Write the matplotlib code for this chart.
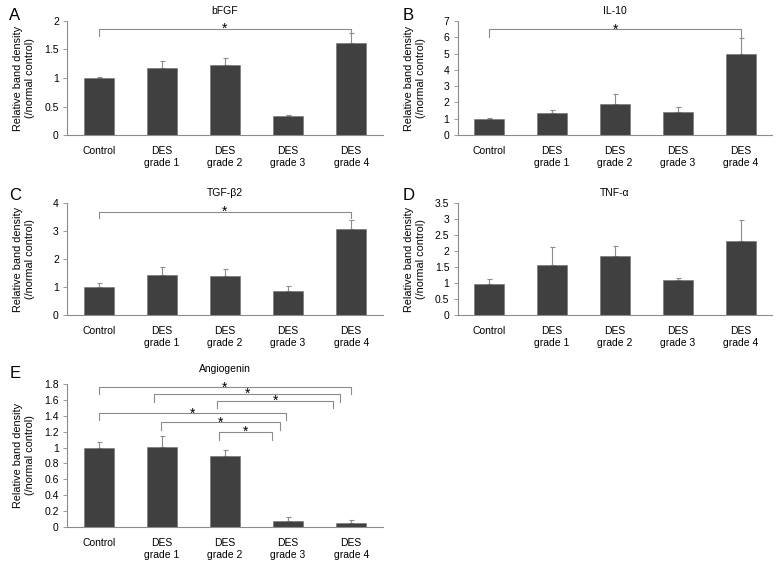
import numpy as np
import matplotlib.pyplot as plt

plt.rcParams['font.family'] = ['Liberation Sans', 'DejaVu Sans']
plt.rcParams['font.size'] = 7.5

groups = ['Control', 'DES\ngrade 1', 'DES\ngrade 2', 'DES\ngrade 3', 'DES\ngrade 4']

bfgf = [1.00, 1.18, 1.23, 0.34, 1.62]
bfgf_err = [0.01, 0.12, 0.12, 0.01, 0.17]
il10 = [1.00, 1.34, 1.91, 1.44, 4.94]
il10_err = [0.04, 0.20, 0.60, 0.30, 1.02]
tgfb2 = [0.99, 1.43, 1.39, 0.84, 3.06]
tgfb2_err = [0.17, 0.27, 0.24, 0.18, 0.34]
tnfa = [0.97, 1.55, 1.86, 1.08, 2.31]
tnfa_err = [0.15, 0.58, 0.31, 0.08, 0.67]
angio = [1.00, 1.005, 0.90, 0.076, 0.05]
angio_err = [0.075, 0.135, 0.075, 0.045, 0.034]

# significance brackets: (x start, x end, height, drop)
bfgf_sig = [(0, 4, 1.86, 0.13)]
il10_sig = [(0, 4, 6.48, 0.45)]
tgfb2_sig = [(0, 4, 3.68, 0.22)]
angio_sig = [(0, 4, 1.76, 0.08),
             (0.88, 3.83, 1.68, 0.10),
             (1.88, 3.72, 1.59, 0.09),
             (0, 2.97, 1.43, 0.08),
             (0.99, 2.88, 1.32, 0.10),
             (1.90, 2.75, 1.20, 0.11)]

bar_c = '#404040'
line_c = '#8c8c8c'

fig = plt.figure(figsize=(7.81, 5.65), dpi=100, facecolor='white')


def panel(rect, vals, errs, title, ymax, step, letter, letter_xy, sigs=(), tpad=5):
    ax = fig.add_axes(rect)
    x = np.arange(len(groups))
    ax.bar(x, vals, width=0.47, color=bar_c, edgecolor='#707070', linewidth=0.4, zorder=2)
    ax.errorbar(x, vals, yerr=[np.zeros(len(vals)), errs], fmt='none',
                ecolor=line_c, elinewidth=0.8, capsize=1.8, capthick=0.8, zorder=1)
    ax.set_xlim(-0.5, 4.5)
    ax.set_ylim(0, ymax)
    ticks = np.arange(0, ymax + step / 2, step)
    ax.set_yticks(ticks)
    ax.set_yticklabels(['%g' % t for t in ticks])
    ax.set_xticks(x)
    ax.set_xticklabels(groups)
    ax.tick_params(axis='x', length=0, pad=8)
    ax.tick_params(axis='y', length=3, width=0.6, color=line_c, pad=3)
    for s in ['top', 'right']:
        ax.spines[s].set_visible(False)
    for s in ['left', 'bottom']:
        ax.spines[s].set_color(line_c)
        ax.spines[s].set_linewidth(0.8)
    ax.set_title(title, fontsize=7.5, pad=tpad)
    ax.set_ylabel('Relative band density\n(/normal control)', fontsize=7.8)
    ax.yaxis.set_label_coords(-0.102, 0.5)
    for x0, x1, h, d in sigs:
        ax.plot([x0, x0, x1, x1], [h - d, h, h, h - d], color=line_c, lw=0.8, clip_on=False)
        ax.annotate('*', xy=((x0 + x1) / 2, h), xytext=(0, -3), textcoords='offset points',
                    ha='center', va='baseline', fontsize=10, annotation_clip=False)
    fig.text(letter_xy[0], letter_xy[1], letter, fontsize=12, va='baseline')
    return ax


panel([0.086, 0.761, 0.404, 0.202], bfgf, bfgf_err, 'bFGF', 2, 0.5, 'A', (0.012, 0.9646), bfgf_sig)
panel([0.586, 0.761, 0.403, 0.202], il10, il10_err, 'IL-10', 7, 1, 'B', (0.515, 0.9646), il10_sig)
panel([0.086, 0.4425, 0.404, 0.198], tgfb2, tgfb2_err, 'TGF-β2', 4, 1, 'C', (0.012, 0.646), tgfb2_sig)
panel([0.586, 0.4425, 0.403, 0.198], tnfa, tnfa_err, 'TNF-α', 3.5, 0.5, 'D', (0.515, 0.646))
panel([0.086, 0.0673, 0.404, 0.253], angio, angio_err, 'Angiogenin', 1.8, 0.2, 'E', (0.012, 0.331),
      angio_sig, tpad=9)

fig.savefig('out.png', dpi=100, facecolor='white')
